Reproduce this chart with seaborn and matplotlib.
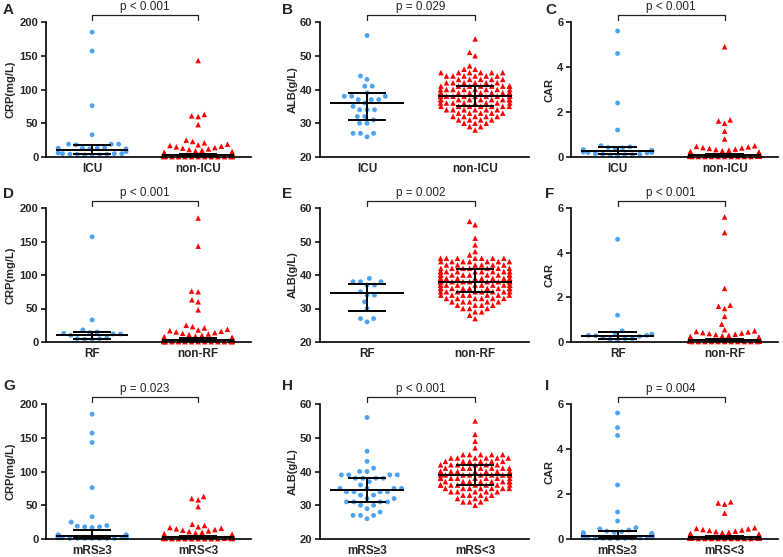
import warnings
warnings.filterwarnings("ignore")
import numpy as np
import pandas as pd
import matplotlib
matplotlib.use("Agg")
import matplotlib.pyplot as plt
import matplotlib.transforms as mtransforms
import seaborn as sns

# ---------------- data ----------------
def expand(vals, counts):
    return list(np.repeat(vals, counts))

# CRP (mg/L)
crp_icu = [185, 157, 76, 33, 19, 19, 19, 18, 14, 13, 13, 13, 12, 12, 12, 8,
           6, 5, 5, 5, 4, 4, 4, 3, 3, 2]
crp_nonicu = [143, 63, 61, 60, 48, 25, 23, 21, 19, 18, 17, 16, 15, 14, 13, 12, 11, 10, 9, 8, 7, 6] + \
    expand([0.5, 1, 1.5, 2, 2.5, 3, 3.5, 4, 4.5, 5], [9, 12, 11, 12, 9, 10, 7, 8, 6, 8])
crp_rf = [157, 33, 18, 15, 14, 13, 12, 12, 10, 6, 5, 5, 4, 4]
crp_nonrf = [185, 143, 76, 75, 63, 60, 48, 25, 23, 21, 19, 18, 17, 16, 15, 14, 13, 12, 11, 10, 9, 8, 7, 6] + \
    expand([0.5, 1, 1.5, 2, 2.5, 3, 3.5, 4, 4.5, 5], [10, 14, 12, 14, 10, 11, 8, 9, 7, 7])
crp_mrs_hi = [185, 157, 143, 76, 33, 25, 20, 19, 18, 17, 18, 6, 6, 6, 6, 5, 5, 5, 5, 5,
              4, 4, 4, 4, 3, 3, 3, 3, 2, 2, 2, 2, 2, 1, 1, 1, 1, 1, 1, 1]
crp_mrs_lo = [63, 60, 58, 48, 22, 20, 18, 17, 16, 15, 14, 13, 12, 11, 10, 9, 8, 7, 6, 6] + \
    expand([0.5, 1, 1.5, 2, 2.5, 3, 3.5, 4, 4.5, 5], [8, 11, 9, 11, 8, 10, 6, 8, 4, 5])

# ALB (g/L)
alb_icu = [56, 44, 43, 41, 41, 39, 38, 38, 38, 37, 37, 37, 36, 35, 34, 34, 34, 32, 32, 31, 30, 30, 27, 27, 27, 26]
alb_nonicu = expand([55, 51, 50, 47, 46, 45, 44, 43, 42, 41, 40, 39, 38, 37, 36, 35, 34, 33, 32, 31, 30, 29, 28],
                    [1, 1, 1, 1, 2, 6, 6, 5, 6, 8, 8, 9, 10, 9, 8, 7, 6, 5, 5, 4, 3, 2, 1])
alb_rf = [39, 38, 38, 38, 37, 37, 35, 34, 34, 32, 30, 27, 27, 26]
alb_nonrf = expand([56, 55, 51, 49, 47, 46, 45, 44, 43, 42, 41, 40, 39, 38, 37, 36, 35, 34, 33, 32, 31, 30, 29, 28, 27],
                   [1, 1, 1, 1, 1, 1, 7, 7, 6, 7, 9, 9, 9, 10, 10, 9, 8, 7, 6, 5, 4, 3, 2, 1, 1])
alb_mrs_hi = expand([56, 46, 43, 41, 40, 39, 38, 37, 36, 35, 34, 33, 32, 31, 30, 29, 28, 27, 26],
                    [1, 1, 1, 1, 2, 4, 4, 1, 1, 4, 4, 2, 2, 4, 2, 1, 1, 3, 1])
alb_mrs_lo = expand([55, 51, 49, 47, 45, 44, 43, 42, 41, 40, 39, 38, 37, 36, 35, 34, 33, 32, 31, 30],
                    [1, 1, 1, 1, 5, 6, 6, 6, 7, 8, 10, 9, 8, 8, 7, 5, 4, 3, 3, 1])

# CAR
car_icu = [5.6, 4.6, 2.4, 1.2, 0.5, 0.45, 0.42, 0.4, 0.35, 0.33, 0.3, 0.3, 0.28, 0.27, 0.25, 0.22,
           0.2, 0.2, 0.18, 0.15, 0.12, 0.12, 0.1, 0.1, 0.08, 0.05]
car_nonicu = [4.9, 1.65, 1.6, 1.5, 1.15, 0.8, 0.5, 0.47, 0.45, 0.42, 0.4, 0.38, 0.35, 0.33, 0.3, 0.28,
              0.25, 0.22, 0.2, 0.2, 0.18, 0.18] + \
    expand([0.02, 0.04, 0.06, 0.08, 0.1, 0.12, 0.14, 0.16], [10, 14, 14, 14, 14, 12, 8, 6])
car_rf = [4.6, 1.2, 0.5, 0.4, 0.35, 0.3, 0.3, 0.28, 0.25, 0.2, 0.15, 0.15, 0.12, 0.1]
car_nonrf = [5.6, 4.9, 2.4, 1.65, 1.6, 1.5, 1.15, 0.8, 0.55, 0.5, 0.47, 0.45, 0.42, 0.4, 0.38, 0.35,
             0.33, 0.3, 0.28, 0.25, 0.22, 0.2, 0.2, 0.18] + \
    expand([0.02, 0.04, 0.06, 0.08, 0.1, 0.12, 0.14, 0.16], [11, 15, 15, 16, 15, 14, 9, 7])
car_mrs_hi = [5.6, 4.95, 4.6, 2.4, 1.2, 0.8, 0.5, 0.45, 0.4, 0.35, 0.32, 0.3, 0.28, 0.25, 0.22,
              0.2, 0.2, 0.18, 0.17, 0.16, 0.15, 0.14, 0.13, 0.12, 0.11, 0.1, 0.1, 0.09, 0.08, 0.07,
              0.06, 0.06, 0.05, 0.05, 0.04, 0.04, 0.03, 0.03, 0.02, 0.02]
car_mrs_lo = [1.65, 1.6, 1.55, 1.15, 0.5, 0.47, 0.45, 0.42, 0.4, 0.38, 0.35, 0.33, 0.3, 0.28, 0.25,
              0.22, 0.2, 0.18] + \
    expand([0.02, 0.04, 0.06, 0.08, 0.1, 0.12, 0.14, 0.16], [9, 13, 13, 13, 12, 10, 7, 5])

# median, Q1, Q3 as drawn in the figure
stats_A = [(11, 5, 18), (3, 1, 5)]
stats_B = [(36, 31, 39), (38, 35, 41)]
stats_C = [(0.28, 0.13, 0.45), (0.08, 0.03, 0.13)]
stats_D = [(10, 5, 15), (3, 1, 6)]
stats_E = [(34.5, 29.3, 37.3), (38, 35, 41.7)]
stats_F = [(0.25, 0.15, 0.45), (0.08, 0.03, 0.15)]
stats_G = [(4, 2, 14), (3, 1, 4)]
stats_H = [(34.5, 31, 38), (39, 36, 42)]
stats_I = [(0.15, 0.04, 0.35), (0.07, 0.03, 0.12)]

groups_icu = ["ICU", "non-ICU"]
groups_rf = ["RF", "non-RF"]
groups_mrs = ["mRS≥3", "mRS<3"]

p_texts = ["p < 0.001", "p = 0.029", "p < 0.001",
           "p < 0.001", "p = 0.002", "p < 0.001",
           "p = 0.023", "p < 0.001", "p = 0.004"]
panel_letters = ["A", "B", "C", "D", "E", "F", "G", "H", "I"]

crp_ticks = [0, 50, 100, 150, 200]
alb_ticks = [20, 30, 40, 50, 60]
car_ticks = [0, 2, 4, 6]

panels = [
    (groups_icu, crp_icu, crp_nonicu, stats_A, "CRP(mg/L)", crp_ticks),
    (groups_icu, alb_icu, alb_nonicu, stats_B, "ALB(g/L)", alb_ticks),
    (groups_icu, car_icu, car_nonicu, stats_C, "CAR", car_ticks),
    (groups_rf, crp_rf, crp_nonrf, stats_D, "CRP(mg/L)", crp_ticks),
    (groups_rf, alb_rf, alb_nonrf, stats_E, "ALB(g/L)", alb_ticks),
    (groups_rf, car_rf, car_nonrf, stats_F, "CAR", car_ticks),
    (groups_mrs, crp_mrs_hi, crp_mrs_lo, stats_G, "CRP(mg/L)", crp_ticks),
    (groups_mrs, alb_mrs_hi, alb_mrs_lo, stats_H, "ALB(g/L)", alb_ticks),
    (groups_mrs, car_mrs_hi, car_mrs_lo, stats_I, "CAR", car_ticks),
]

# ---------------- styling ----------------
sns.set_style("ticks")
plt.rcParams["font.family"] = ["Liberation Sans", "DejaVu Sans"]
plt.rcParams["font.weight"] = "bold"
plt.rcParams["axes.labelweight"] = "bold"

BLUE = "#4DA3F2"
RED = "#FF0000"

W, H = 783, 557
fig = plt.figure(figsize=(W / 100, H / 100), dpi=100)
col_left = [46, 320, 571]
col_w = [205, 209, 207]
row_top = [22, 208, 404]
row_bot = [157, 342, 539]
ylabel_x = [-0.148, -0.105, -0.078]
letter_x = [3, 282, 545]
letter_y = [10, 194, 386]

pos = [0.0, 1.25]
med_hw = 0.425
cap_hw = 0.224

for i, (groups, v1, v2, stats, ylabel, yticks) in enumerate(panels):
    r, c = divmod(i, 3)
    ax = fig.add_axes([col_left[c] / W, (H - row_bot[r]) / H, col_w[c] / W,
                       (row_bot[r] - row_top[r]) / H])
    for k, (vals, colr, mk, sz, pad) in enumerate([(v1, BLUE, "o", 3.5, 1.6),
                                                   (v2, RED, "^", 4.0, 0.5)]):
        sns.swarmplot(x=np.full(len(vals), pos[k]), y=np.asarray(vals, float),
                      native_scale=True, orient="x", color=colr, marker=mk, size=sz,
                      linewidth=pad, edgecolor="none", ax=ax, clip_on=False,
                      zorder=3, warn_thresh=1)
    for k in range(2):
        med, q1, q3 = stats[k]
        kw = dict(color="black", lw=1.4, zorder=6, solid_capstyle="butt")
        ax.plot([pos[k] - med_hw, pos[k] + med_hw], [med, med], **kw)
        ax.plot([pos[k] - cap_hw, pos[k] + cap_hw], [q1, q1], **kw)
        ax.plot([pos[k] - cap_hw, pos[k] + cap_hw], [q3, q3], **kw)
        ax.plot([pos[k], pos[k]], [q1, q3], **kw)

    ax.set_ylim(yticks[0], yticks[-1])
    ax.set_yticks(yticks)
    ax.set_xlim(-0.544, 1.873)
    ax.set_xticks(pos)
    ax.set_xticklabels(groups)
    ax.set_xlabel("")
    ax.set_ylabel(ylabel, fontsize=8, fontweight="bold")
    ax.yaxis.set_label_coords(ylabel_x[c], 0.5)
    ax.tick_params(axis="y", length=3.5, width=1.1, pad=2, labelsize=8, color="black")
    ax.tick_params(axis="x", length=0, pad=4, labelsize=8.5)
    for lab in ax.get_xticklabels() + ax.get_yticklabels():
        lab.set_fontweight("bold")
    sns.despine(ax=ax)
    for s in ["left", "bottom"]:
        ax.spines[s].set_linewidth(1.2)
        ax.spines[s].set_color("black")
        ax.spines[s].set_zorder(7)

    trans = mtransforms.blended_transform_factory(ax.transData, ax.transAxes)
    ax.plot([pos[0], pos[0], pos[1], pos[1]], [1.015, 1.052, 1.052, 1.015],
            transform=trans, color="#222222", lw=0.9, clip_on=False)
    ax.text((pos[0] + pos[1]) / 2, 1.089, p_texts[i], transform=trans, ha="center",
            va="baseline", fontsize=8.5, fontweight="normal")

    fig.text(letter_x[c] / W, 1 - letter_y[r] / H, panel_letters[i], fontsize=11,
             fontweight="bold", ha="left", va="center")

fig.savefig("out.png", dpi=100)
